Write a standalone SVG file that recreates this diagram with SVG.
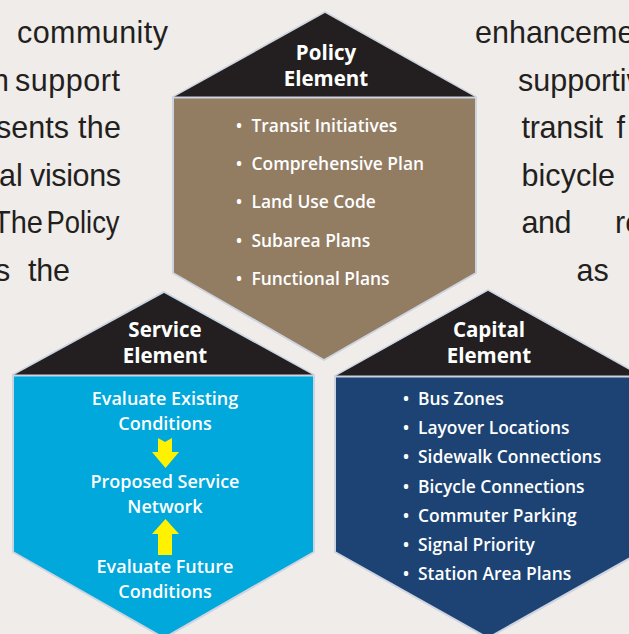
<svg xmlns="http://www.w3.org/2000/svg" width="629" height="634" viewBox="0 0 629 634">
<style>
.body{font-family:"Liberation Sans",Arial,sans-serif;font-size:30.5px;fill:#231f20}
.hdr{font-family:"Open Sans",sans-serif;font-weight:700;font-size:20.5px;fill:#ffffff;text-anchor:middle}
.item{font-family:"Open Sans",sans-serif;font-weight:600;font-size:17.4px;fill:#ffffff}
.svc{font-family:"Open Sans",sans-serif;font-weight:600;font-size:18px;fill:#ffffff;text-anchor:middle}
.edge{stroke:#cdd3df;stroke-width:2;stroke-linejoin:round}
.top{fill:#231f20}
.arrow{fill:#fff200}
</style>
<rect width="629" height="634" fill="#efece9"/>
<g id="paragraph">
<text class="body" x="17" y="43" textLength="151" lengthAdjust="spacing">community</text>
<text class="body" x="-8" y="90.5">n</text>
<text class="body" x="15" y="90.5" textLength="105" lengthAdjust="spacing">support</text>
<text class="body" x="-4" y="138">sents</text>
<text class="body" x="78" y="138" textLength="43" lengthAdjust="spacing">the</text>
<text class="body" x="-1" y="185.5">al</text>
<text class="body" x="30" y="185.5" textLength="91" lengthAdjust="spacing">visions</text>
<text class="body" x="-7" y="233" textLength="50" lengthAdjust="spacingAndGlyphs">The</text>
<text class="body" x="46.5" y="233" textLength="73" lengthAdjust="spacingAndGlyphs">Policy</text>
<text class="body" x="-5" y="281">s</text>
<text class="body" x="28" y="281" textLength="42" lengthAdjust="spacing">the</text>
<text class="body" x="475" y="43">enhanceme</text>
<text class="body" x="518" y="90.5">supportiv</text>
<text class="body" x="521.5" y="138" textLength="81.5" lengthAdjust="spacing">transit</text>
<text class="body" x="616.5" y="138">f</text>
<text class="body" x="521.5" y="185.5" textLength="93.5" lengthAdjust="spacing">bicycle</text>
<text class="body" x="521.5" y="233" textLength="50" lengthAdjust="spacing">and</text>
<text class="body" x="615" y="233">re</text>
<text class="body" x="576.5" y="281">as</text>
</g>
<g id="policy">
<polygon class="edge" points="325,12 476,97 476,273 324,360 173,273 173,97" fill="#927c62"/>
<polygon class="top" points="325,13 475,97 174,97"/>
<line class="edge" x1="173" y1="97.5" x2="476" y2="97.5"/>
<text class="hdr" x="326" y="60">Policy</text>
<text class="hdr" x="326" y="86">Element</text>
<text class="item" x="235.7" y="132">•</text><text class="item" x="251.5" y="132">Transit Initiatives</text>
<text class="item" x="235.7" y="170">•</text><text class="item" x="251.5" y="170">Comprehensive Plan</text>
<text class="item" x="235.7" y="208">•</text><text class="item" x="251.5" y="208">Land Use Code</text>
<text class="item" x="235.7" y="247">•</text><text class="item" x="251.5" y="247">Subarea Plans</text>
<text class="item" x="235.7" y="285">•</text><text class="item" x="251.5" y="285">Functional Plans</text>
</g>
<g id="service">
<polygon class="edge" points="164,292 314,375 314,552 164,638 13,552 13,375" fill="#00a8dc"/>
<polygon class="top" points="164,293 313,375 14,375"/>
<line class="edge" x1="13" y1="375.5" x2="314" y2="375.5"/>
<text class="hdr" x="165" y="337">Service</text>
<text class="hdr" x="165" y="363">Element</text>
<text class="svc" x="165" y="405">Evaluate Existing</text>
<text class="svc" x="165" y="430">Conditions</text>
<text class="svc" x="165" y="488">Proposed Service</text>
<text class="svc" x="165" y="513">Network</text>
<text class="svc" x="165" y="573">Evaluate Future</text>
<text class="svc" x="165" y="598">Conditions</text>
</g>
<g id="capital">
<polygon class="edge" points="488,290 641,376 641,552 488,638 335,552 335,376" fill="#1c4373"/>
<polygon class="top" points="488,291 640,376 336,376"/>
<line class="edge" x1="335" y1="376.5" x2="641" y2="376.5"/>
<text class="hdr" x="489" y="337">Capital</text>
<text class="hdr" x="489" y="363">Element</text>
<text class="item" x="402.7" y="405">•</text><text class="item" x="418" y="405">Bus Zones</text>
<text class="item" x="402.7" y="434">•</text><text class="item" x="418" y="434">Layover Locations</text>
<text class="item" x="402.7" y="463">•</text><text class="item" x="418" y="463">Sidewalk Connections</text>
<text class="item" x="402.7" y="492.5">•</text><text class="item" x="418" y="492.5">Bicycle Connections</text>
<text class="item" x="402.7" y="522">•</text><text class="item" x="418" y="522">Commuter Parking</text>
<text class="item" x="402.7" y="551">•</text><text class="item" x="418" y="551">Signal Priority</text>
<text class="item" x="402.7" y="580">•</text><text class="item" x="418" y="580">Station Area Plans</text>
</g>
<g id="connectors">
<polygon class="arrow" points="158,438 165,442 172,438 172,452 179,452 165.5,468 152,452 158,452"/>
<polygon class="arrow" points="165.5,519 179,534 172,534 172,555 158,555 158,534 152,534"/>
</g>
</svg>
